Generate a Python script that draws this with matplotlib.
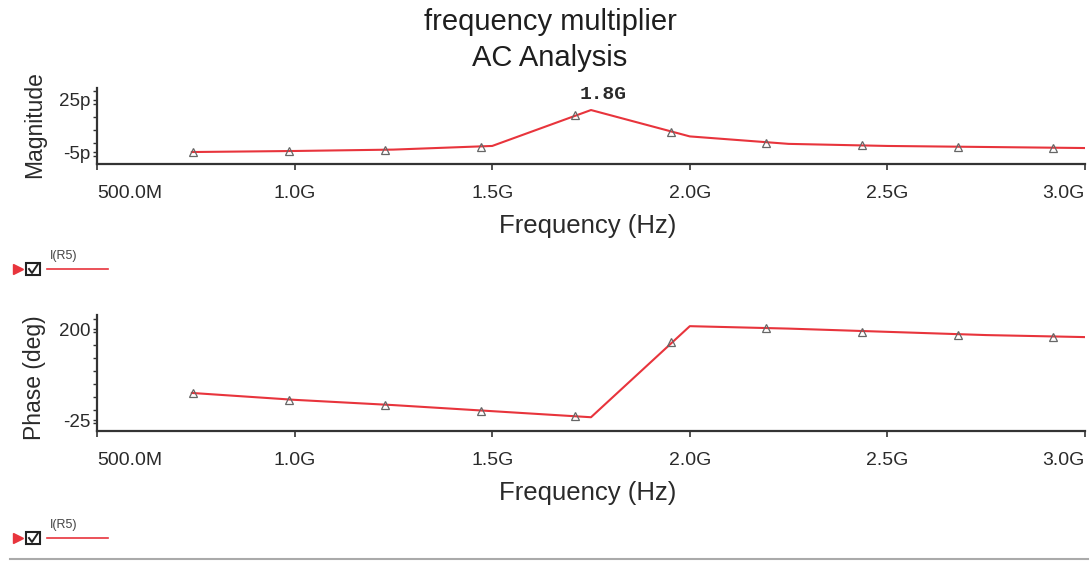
import numpy as np
import matplotlib
matplotlib.use("Agg")
import matplotlib.pyplot as plt
from matplotlib.ticker import MultipleLocator
from matplotlib.lines import Line2D
from matplotlib.patches import Rectangle

plt.rcParams['font.family'] = ['Liberation Sans', 'DejaVu Sans']

# trace data (GHz)
freq = [0.74, 1.0, 1.25, 1.5, 1.75, 2.0, 2.25, 2.5, 2.75, 3.0]
mag_p = [-5.0, -4.4, -3.6, -1.5, 19.2, 4.0, -0.3, -1.5, -2.1, -2.7]
phase_deg = [42, 25, 12, -3, -18, 207, 201, 193, 185, 180]

# symbol positions along the traces
mark_freq = [0.743, 0.986, 1.229, 1.472, 1.71, 1.952, 2.193, 2.436, 2.679, 2.919]
mark_mag = [-5.0, -4.5, -3.8, -2.2, 16.3, 6.5, 0.2, -1.2, -2.0, -2.5]
mark_phase = [41.7, 24.4, 12, -2.8, -15, 168, 202, 192, 185, 180]

xticks = [0.5, 1.0, 1.5, 2.0, 2.5, 3.0]
xticklabels = ["500.0M", "1.0G", "1.5G", "2.0G", "2.5G", "3.0G"]

W, H = 1090, 561
fig = plt.figure(figsize=(W / 100, H / 100), dpi=100)

red = "#e8343c"
grey = "#666666"
txt = "#2a2a2a"


def px(x0, y0, x1, y1):
    # pixel box -> figure rect
    return [x0 / W, 1 - y1 / H, (x1 - x0) / W, (y1 - y0) / H]


def style(ax, yticks, ylabels, ylim, minor):
    ax.set_xlim(0.5, 3.0)
    ax.set_ylim(*ylim)
    for s in ["top", "right"]:
        ax.spines[s].set_visible(False)
    for s in ["left", "bottom"]:
        ax.spines[s].set_color("#333333")
        ax.spines[s].set_linewidth(1.6)
    ax.set_xticks(xticks)
    ax.set_xticklabels(xticklabels, fontsize=14, color=txt)
    labs = ax.get_xticklabels()
    labs[0].set_horizontalalignment("left")
    labs[-1].set_horizontalalignment("right")
    ax.set_yticks(yticks)
    ax.set_yticklabels(ylabels, fontsize=13.5, color=txt)
    ax.yaxis.set_minor_locator(MultipleLocator(minor))
    ax.tick_params(axis="x", direction="out", length=4, width=1.2, pad=11, color="#333333")
    ax.tick_params(axis="y", which="both", direction="out", length=3, width=1, pad=2, color="#333333")
    ax.tick_params(axis="x", which="minor", length=0)


# magnitude panel
ax1 = fig.add_axes(px(97, 88, 1085, 164))
ax1.plot(freq, mag_p, color=red, lw=1.5, zorder=2)
ax1.plot(mark_freq, mark_mag, ls="none", marker="^", ms=6, mfc="none", mec=grey, mew=0.9, zorder=3)
style(ax1, [-5, 25], ["-5p", "25p"], (-11.9, 31.9), 7.5)
ax1.text(1.78, 27.9, "1.8G", family=["Liberation Mono", "DejaVu Sans Mono"], fontsize=14,
         fontweight="bold", color=txt, ha="center", va="center", clip_on=False)

# phase panel
ax2 = fig.add_axes(px(97, 315, 1085, 431))
ax2.plot(freq, phase_deg, color=red, lw=1.5, zorder=2)
ax2.plot(mark_freq, mark_phase, ls="none", marker="^", ms=6, mfc="none", mec=grey, mew=0.9, zorder=3)
style(ax2, [-25, 200], ["-25", "200"], (-52, 234.6), 225 / 7)

# titles and axis labels
fig.text(550 / W, 1 - 22 / H, "frequency multiplier", fontsize=21, ha="center", va="center", color="#1e1e1e")
fig.text(550 / W, 1 - 58 / H, "AC Analysis", fontsize=21, ha="center", va="center", color="#1e1e1e")
fig.text(35 / W, 1 - 125 / H, "Magnitude", fontsize=16.5, rotation=90, ha="center", va="center", color=txt)
fig.text(35 / W, 1 - 378 / H, "Phase (deg)", fontsize=16.5, rotation=90, ha="center", va="center", color=txt)
fig.text(588 / W, 1 - 226 / H, "Frequency (Hz)", fontsize=18.5, ha="center", va="center", color=txt)
fig.text(588 / W, 1 - 493 / H, "Frequency (Hz)", fontsize=18.5, ha="center", va="center", color=txt)

# trace legends
for yl in [269, 538]:
    yf = 1 - yl / H
    fig.add_artist(Line2D([47 / W, 108 / W], [yf, yf], color=red, lw=1.2))
    fig.add_artist(Line2D([18 / W], [yf], marker=">", ms=7, color=red, ls="none"))
    fig.add_artist(Rectangle((26 / W, yf - 6 / H), 14 / W, 12 / H, fill=False, ec="#222222", lw=1.5))
    fig.add_artist(Line2D([29 / W, 32 / W, 38 / W], [yf, yf - 4 / H, yf + 5 / H], color="#222222", lw=1.4))
    fig.text(50 / W, yf + 13 / H, "I(R5)", fontsize=9, ha="left", va="center", color="#444444")

fig.add_artist(Line2D([10 / W, 1088 / W], [1 - 559 / H, 1 - 559 / H], color="#aaaaaa", lw=1.5))

fig.savefig("out.png", dpi=100, facecolor="white")
